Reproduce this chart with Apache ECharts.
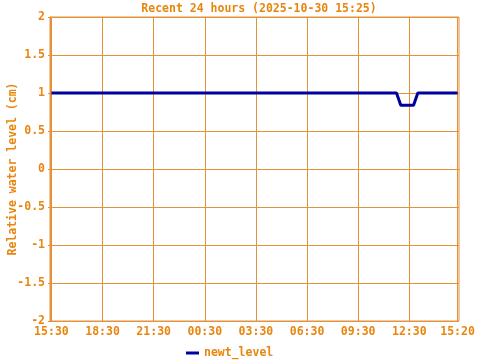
<!DOCTYPE html>
<html>
<head>
<meta charset="utf-8">
<script src="https://cdn.jsdelivr.net/npm/echarts@6/dist/echarts.min.js"></script>
<style>html,body{margin:0;padding:0;background:#fff}#c{width:480px;height:360px}</style>
</head>
<body>
<div id="c"></div>
<script>
// Data (times are clock readings over the 24h window that starts 2025-10-29 15:25)
var windowStart = "15:25";
var seriesName = "newt_level";
var times = ["15:30", "11:45", "12:00", "12:45", "13:00", "15:20"];
var dayOffset = [0, 1, 1, 1, 1, 1];
var levels = [1.0, 1.0, 0.84, 0.84, 1.0, 1.0];
var tickLabels = ["15:30", "18:30", "21:30", "00:30", "03:30", "06:30", "09:30", "12:30", "15:20"];
var tickDayOffset = [0, 0, 0, 1, 1, 1, 1, 1, 1];
var yTicks = [-2, -1.5, -1, -0.5, 0, 0.5, 1, 1.5, 2];

function minutes(t) { var p = t.split(":"); return +p[0] * 60 + +p[1]; }
var startMin = minutes(windowStart);
function rel(t, d) { return minutes(t) + d * 1440 - startMin; }

var seriesData = times.map(function (t, i) { return [rel(t, dayOffset[i]), levels[i]]; });
var tickVals = tickLabels.map(function (t, i) { return rel(t, tickDayOffset[i]); });
var labelMap = {};
tickVals.forEach(function (v, i) { labelMap[v] = tickLabels[i]; });

var orange = '#e8860f';
var gridC = '#e3923a';
var font = '"DejaVu Sans Mono", "Liberation Mono", monospace';

var chart = echarts.init(document.getElementById('c'), null, { renderer: 'canvas' });
chart.setOption({
  animation: false,
  backgroundColor: '#ffffff',
  title: {
    text: 'Recent 24 hours (2025-10-30 15:25)',
    left: 254, top: -2, textAlign: 'center',
    textStyle: { color: orange, fontFamily: font, fontWeight: 'bold', fontSize: 11.5 }
  },
  grid: { left: 50, right: 21, top: 17, bottom: 39, show: true, borderColor: gridC, borderWidth: 1,
          backgroundColor: 'transparent', containLabel: false, outerBoundsMode: 'none' },
  legend: {
    left: 186, top: 347, padding: 0,
    itemWidth: 13, itemHeight: 3, icon: 'rect',
    textStyle: { color: orange, fontFamily: font, fontWeight: 'bold', fontSize: 11.5 },
    data: [seriesName]
  },
  xAxis: {
    type: 'value', min: 0, max: 1440,
    axisLine: { show: true, lineStyle: { color: gridC } },
    axisTick: { show: true, customValues: tickVals, length: 3, lineStyle: { color: gridC } },
    splitLine: { show: true, lineStyle: { color: gridC, width: 1 } },
    axisLabel: {
      customValues: tickVals, margin: 5,
      color: orange, fontFamily: font, fontWeight: 'bold', fontSize: 11.5,
      formatter: function (v) { return labelMap[v] !== undefined ? labelMap[v] : ''; }
    }
  },
  yAxis: {
    type: 'value', min: yTicks[0], max: yTicks[yTicks.length - 1], interval: 0.5,
    name: 'Relative water level (cm)', nameLocation: 'middle', nameGap: 31, nameRotate: 90,
    nameMoveOverlap: false,
    nameTextStyle: { color: orange, fontFamily: font, fontWeight: 'bold', fontSize: 11.5 },
    axisLine: { show: true, lineStyle: { color: gridC } },
    axisTick: { show: true, length: 2, lineStyle: { color: gridC } },
    splitLine: { show: true, lineStyle: { color: gridC, width: 1 } },
    axisLabel: { margin: 5, color: orange, fontFamily: font, fontWeight: 'bold', fontSize: 11.5 }
  },
  series: [{
    name: seriesName, type: 'line', data: seriesData,
    showSymbol: false, symbol: 'none',
    lineStyle: { color: '#0000a0', width: 3 },
    itemStyle: { color: '#0000a0' }
  }]
});
</script>
</body>
</html>
